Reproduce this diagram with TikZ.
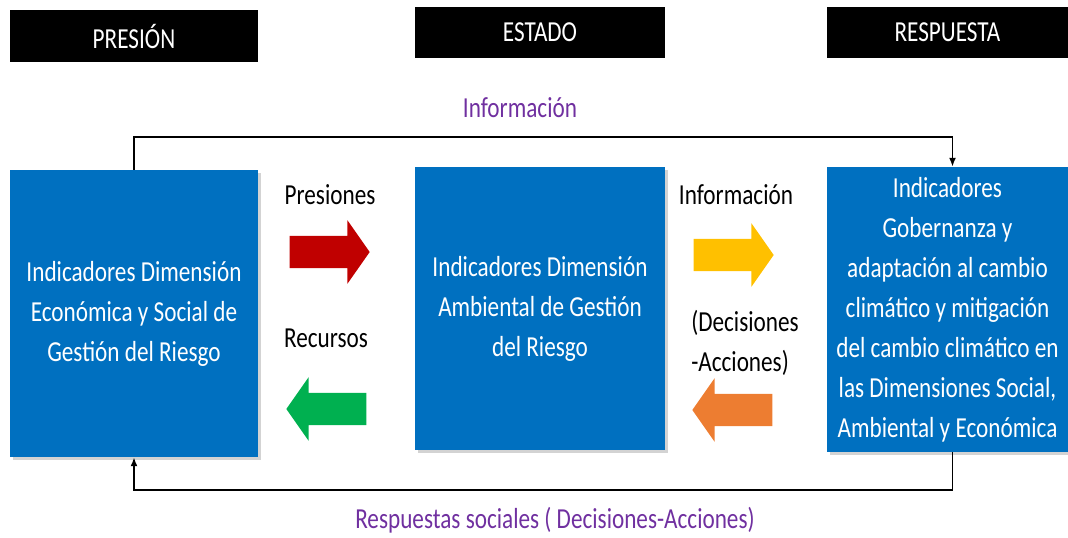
\documentclass[tikz,border=0pt]{standalone}
\usepackage{fontspec}
\setmainfont{Carlito}[FakeStretch=0.8]
\usetikzlibrary{shapes.arrows,shadows,arrows.meta}
\definecolor{azul}{HTML}{0070C0}
\definecolor{rojo}{HTML}{C00000}
\definecolor{verde}{HTML}{00B050}
\definecolor{amarillo}{HTML}{FFC000}
\definecolor{naranja}{HTML}{ED7D31}
\definecolor{morado}{HTML}{7030A0}
\begin{document}
\begin{tikzpicture}[x=1pt,y=-1pt,
        every node/.style={font=\fontsize{29}{40}\selectfont},
        encabezado/.style={fill=black,text=white,inner sep=0pt},
        indicador/.style={fill=azul,text=white,align=center,inner sep=0pt,
            drop shadow={shadow xshift=3pt,shadow yshift=-3pt,opacity=0.35}},
        flecha/.style={single arrow,draw=none,minimum height=80pt,inner xsep=0pt,
            inner ysep=16pt,single arrow head extend=15.5pt,single arrow tip angle=110,
            single arrow head indent=0pt},
        conector/.style={line width=1.8pt,-{Latex[length=9pt,width=7pt]}}]
    \useasboundingbox (0,0) rectangle (1068,538);

    \node[encabezado,minimum width=248pt,minimum height=52pt] (hpres) at (134,36) {PRESIÓN};
    \node[encabezado,minimum width=250pt,minimum height=51pt] (hest) at (540,32.5) {ESTADO};
    \node[encabezado,minimum width=241pt,minimum height=51pt] (hresp) at (947.5,32.5) {RESPUESTA};

    \node[indicador,minimum width=248pt,minimum height=287pt] (indpres) at (134,313.5)
        {Indicadores Dimensión\\Económica y Social de\\Gestión del Riesgo};
    \node[indicador,minimum width=250pt,minimum height=283pt] (indest) at (540,308.5)
        {Indicadores Dimensión\\Ambiental de Gestión\\del Riesgo};
    \node[indicador,minimum width=241pt,minimum height=285pt] (indresp) at (947.5,309.5)
        {Indicadores\\Gobernanza y\\adaptación al cambio\\climático y mitigación\\del cambio climático en\\las Dimensiones Social,\\Ambiental y Económica};

    \node (presiones) at (330,195) {Presiones};
    \node (recursos) at (326,338) {Recursos};
    \node (informacion) at (736,195) {Información};
    \node[align=left] (decisiones) at (745,343) {(Decisiones\\-Acciones)};

    \node[flecha,fill=rojo] (fpres) at (324,252) {};
    \node[flecha,fill=verde,shape border rotate=180] (frec) at (332,409) {};
    \node[flecha,fill=amarillo] (finfo) at (728,255) {};
    \node[flecha,fill=naranja,shape border rotate=180] (fdec) at (738,410) {};

    \node[text=morado] (infotop) at (520,108) {Información};
    \node[text=morado] (respsoc) at (555,520) {Respuestas sociales ( Decisiones-Acciones)};

    \draw[conector] (indpres.north) -- ++(0,-33) -| ([xshift=5pt]indresp.north);
    \draw[conector] ([xshift=5pt]indresp.south) -- ++(0,38) -| (indpres.south);
\end{tikzpicture}
\end{document}
